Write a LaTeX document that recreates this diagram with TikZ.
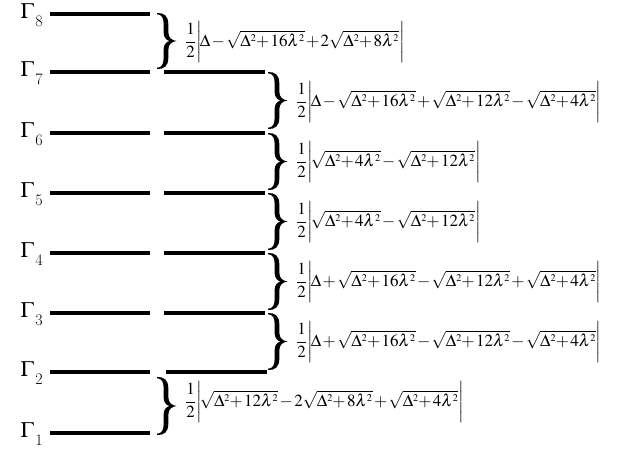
\documentclass[tikz,border=0pt]{standalone}
\usepackage{mathptmx}
\newcommand\tinytwo{{\scriptscriptstyle 2}}
\newcommand\myroot[1]{\sqrt{\Delta^{\tinytwo}\!+#1\lambda^{\tinytwo}}}
\newcommand\half{{\displaystyle\frac{1}{2}}}
\newcommand\absof[1]{\mathord{\left|\vphantom{\half}\mkern-2mu#1\right|}}
\newcommand\glab[1]{$\Gamma$\kern1.5pt\raisebox{-8pt}{\fontsize{16}{17}\selectfont #1}}
% filled curly brace: x0 (left ends), y0 (top), y1 (bottom)
\newcommand\bracefill[3]{%
  \pgfmathsetmacro\bx{#1}\pgfmathsetmacro\bt{#2}\pgfmathsetmacro\bb{#3}%
  \pgfmathsetmacro\bm{(#2+#3)/2}%
  \pgfmathsetmacro\sx{#1+9}\pgfmathsetmacro\tx{#1+19.5}%
  \fill (\bx,\bt)
    .. controls (\bx+7,\bt-0.3) and (\sx+2.3,\bt+3) .. (\sx+2.3,\bt+11)
    -- (\sx+2.3,\bm-9)
    .. controls (\sx+2.3,\bm-3) and (\sx+6,\bm-0.7) .. (\tx,\bm)
    .. controls (\sx+6,\bm+0.7) and (\sx+2.3,\bm+3) .. (\sx+2.3,\bm+9)
    -- (\sx+2.3,\bb-11)
    .. controls (\sx+2.3,\bb-3) and (\bx+7,\bb+0.3) .. (\bx,\bb)
    -- (\bx,\bb-1.3)
    .. controls (\bx+5,\bb-1.3) and (\sx-2.3,\bb-5) .. (\sx-2.3,\bb-12)
    -- (\sx-2.3,\bm+8)
    .. controls (\sx-2.3,\bm+3) and (\sx+1,\bm+0.6) .. (\sx+3.5,\bm)
    .. controls (\sx+1,\bm-0.6) and (\sx-2.3,\bm-3) .. (\sx-2.3,\bm-8)
    -- (\sx-2.3,\bt+12)
    .. controls (\sx-2.3,\bt+5) and (\bx+5,\bt+1.3) .. (\bx,\bt+1.3)
    -- cycle;}
\begin{document}
\begin{tikzpicture}[x=1pt,y=-1pt,
  level/.style={line width=3.4pt},
  lab/.style={anchor=base east,inner sep=0pt,font=\fontsize{22}{24}\selectfont},
  fm/.style={anchor=west,inner sep=0pt,font=\fontsize{17}{20}\selectfont}]
\useasboundingbox (0,0) rectangle (630,456);
\medmuskip=1.5mu plus 1mu minus 1mu
% level coordinates
\foreach \n/\y in {8/14,7/72,6/133,5/193,4/253,3/313,2/372,1/433}{
  \coordinate (L\n a) at (50,\y);
  \coordinate (L\n b) at (150,\y);
  \node[lab] (G\n) at (43,\y+4.5) {\glab{\n}};
}
\foreach \n/\y in {7/72,6/133,5/193,4/253,3/313}{
  \coordinate (R\n a) at (164,\y);
  \coordinate (R\n b) at (265,\y);
}
\coordinate (R2a) at (166,372);
\coordinate (R2b) at (267,372);
\foreach \n in {8,7,6,5,4,3,2,1}{\draw[level] (L\n a) -- (L\n b);}
\foreach \n in {7,6,5,4,3,2}{\draw[level] (R\n a) -- (R\n b);}
% braces
\bracefill{157}{13}{69}
\bracefill{268}{72}{129}
\bracefill{268}{133}{190}
\bracefill{268}{193}{250}
\bracefill{268}{253}{310}
\bracefill{268}{313}{370}
\bracefill{157}{377}{435}
% formulas
\node[fm] (F1) at (185,42) {$\half\absof{\Delta-\myroot{16}+2\myroot{8}}$};
\node[fm] (F2) at (296,102) {$\half\absof{\Delta-\myroot{16}+\myroot{12}-\myroot{4}}$};
\node[fm] (F3) at (296,162) {$\half\absof{\myroot{4}-\myroot{12}}$};
\node[fm] (F4) at (296,222) {$\half\absof{\myroot{4}-\myroot{12}}$};
\node[fm] (F5) at (296,282) {$\half\absof{\Delta+\myroot{16}-\myroot{12}+\myroot{4}}$};
\node[fm] (F6) at (296,342) {$\half\absof{\Delta+\myroot{16}-\myroot{12}-\myroot{4}}$};
\node[fm] (F7) at (185,402) {$\half\absof{\myroot{12}-2\myroot{8}+\myroot{4}}$};
\end{tikzpicture}
\end{document}
